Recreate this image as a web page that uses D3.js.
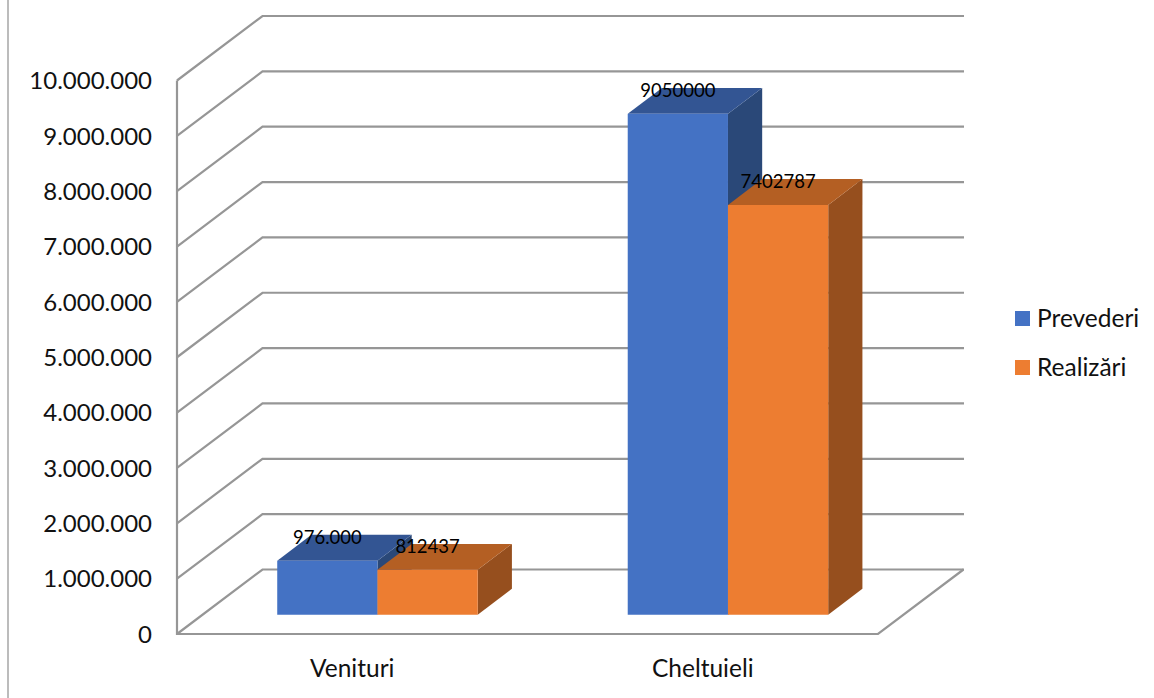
<!DOCTYPE html>
<html><head><meta charset="utf-8">
<style>html,body{margin:0;padding:0;background:#fff}svg{display:block}text{font-family:Lato,"Open Sans",sans-serif;fill:#111}</style>
<script src="https://cdn.jsdelivr.net/npm/d3@7"></script></head>
<body><svg id="c" width="1154" height="698"></svg>
<script>
const categories = ["Venituri", "Cheltuieli"];
const seriesNames = ["Prevederi", "Realizări"];
const prevederi = [976000, 9050000];
const realizari = [812437, 7402787];
const prevederiLabels = ["976.000", "9050000"];
const realizariLabels = ["812437", "7402787"];
const yTicks = [0,1000000,2000000,3000000,4000000,5000000,6000000,7000000,8000000,9000000,10000000];
const faceColors = [
  {front:"#4472C4", top:"#335593", side:"#2A4878"},
  {front:"#ED7D31", top:"#B45F23", side:"#964F1E"}
];
const gridColor = "#969696";

const svg = d3.select("#c");
const depth = {x:85.5, y:-64.5};
const barStart = 0.295, barDepth = 0.4;
const y = d3.scaleLinear().domain([0,10000000]).range([634,80.5]);
const x = d3.scaleBand().domain(categories).range([177,878]);
const xs = d3.scaleBand().domain(seriesNames).range([x.bandwidth()*0.214, x.bandwidth()*0.786]);
const fmt = d3.formatLocale({decimal:",",thousands:".",grouping:[3],currency:["",""]}).format(",d");

// gridlines on the side and back walls
const grid = svg.append("g").attr("fill","none").attr("stroke",gridColor).attr("stroke-width",2.2);
grid.selectAll("path.g").data(yTicks).join("path").attr("class","g")
  .attr("d",v=>d3.line()([[177,y(v)],[177+depth.x,y(v)+depth.y],[964,y(v)+depth.y]]));
// floor + walls
grid.append("path").attr("d",d3.line()([[177,y(10000000)],[177,y(0)],[878,y(0)],[878+depth.x,y(0)+depth.y]]));
svg.append("line").attr("x1",8).attr("x2",8).attr("y1",0).attr("y2",698).attr("stroke","#A6A6A6").attr("stroke-width",1.5);

// axes
const ax = svg.append("g").attr("transform","translate(152,0)")
  .call(d3.axisLeft(y).tickValues(yTicks).tickFormat(fmt).tickSize(0).tickPadding(0));
ax.select(".domain").remove();
ax.selectAll("text").attr("font-size",24).attr("dy","0.34em");
const bx = svg.append("g").attr("transform","translate(0,669)")
  .call(d3.axisBottom(x).tickSize(0).tickPadding(0));
bx.select(".domain").remove();
bx.selectAll("text").attr("font-size",24.5).attr("dy","0.34em");

// 3D bars
const ox = depth.x*barStart, oy = depth.y*0.3;
const dx = depth.x*barDepth, dy = depth.y*barDepth;
const series = [prevederi, realizari];
const poly = d3.line();
const labels = [];
const gBars = svg.append("g");
series.forEach((vals,si)=>{
  const c = faceColors[si], name = seriesNames[si];
  const txt = si===0?prevederiLabels:realizariLabels;
  vals.forEach((v,i)=>{
    const l = x(categories[i])+xs(name)+ox, r = l+xs.bandwidth();
    const t = y(v)+oy, b = y(0)+oy;
    gBars.append("path").attr("fill",c.side).attr("d",poly([[r,t],[r+dx,t+dy],[r+dx,b+dy],[r,b]])+"Z");
    gBars.append("path").attr("fill",c.top).attr("d",poly([[l,t],[l+dx,t+dy],[r+dx,t+dy],[r,t]])+"Z");
    gBars.append("path").attr("fill",c.front).attr("d",poly([[l,t],[r,t],[r,b],[l,b]])+"Z");
    labels.push({x:(l+r)/2,y:t-23,t:txt[i]});
  });
});
svg.append("g").selectAll("text").data(labels).join("text")
  .attr("x",d=>d.x).attr("y",d=>d.y).attr("dy","0.34em").attr("text-anchor","middle")
  .attr("font-size",18.5).style("fill","#000").text(d=>d.t);

// legend
const lg = svg.append("g").selectAll("g").data(seriesNames).join("g")
  .attr("transform",(d,i)=>`translate(1015,${311+i*49})`);
lg.append("rect").attr("width",15).attr("height",15).attr("fill",(d,i)=>faceColors[i].front);
lg.append("text").attr("x",22).attr("y",7.5).attr("dy","0.34em").attr("font-size",24.5).text(d=>d);
</script></body></html>
